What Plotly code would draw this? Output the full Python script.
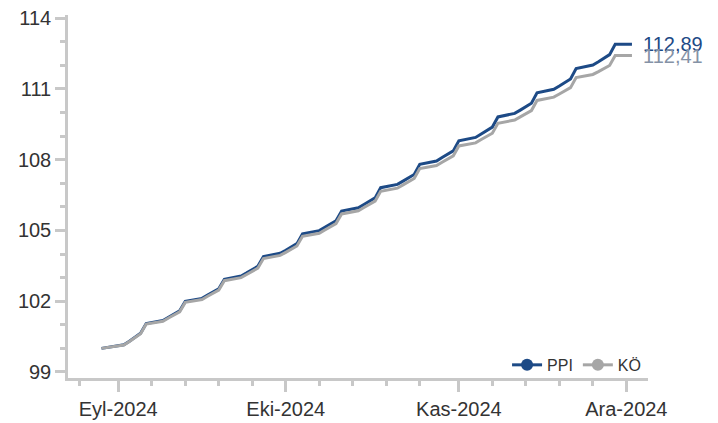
import pandas as pd
import plotly.graph_objects as go

# ---- data ----
dates = ["2024-08-29"] + [d.strftime("%Y-%m-%d") for d in pd.bdate_range("2024-09-02", "2024-12-02")]

ppi = [100.00,
       100.15, 100.30, 100.47, 100.64, 101.05,
       101.18, 101.32, 101.45, 101.59, 101.99,
       102.12, 102.26, 102.39, 102.53, 102.93,
       103.07, 103.20, 103.34, 103.48, 103.89,
       104.03, 104.16, 104.30, 104.44, 104.85,
       104.99, 105.13, 105.27, 105.41, 105.82,
       105.96, 106.10, 106.24, 106.38, 106.81,
       106.95, 107.09, 107.23, 107.37, 107.80,
       107.94, 108.09, 108.23, 108.37, 108.80,
       108.94, 109.09, 109.23, 109.38, 109.81,
       109.96, 110.10, 110.25, 110.39, 110.83,
       110.98, 111.12, 111.27, 111.42, 111.86,
       112.01, 112.15, 112.30, 112.45, 112.89,
       112.89]

ko = [100.00,
      100.14, 100.29, 100.46, 100.62, 101.03,
      101.15, 101.29, 101.42, 101.55, 101.95,
      102.07, 102.21, 102.34, 102.47, 102.87,
      103.00, 103.13, 103.27, 103.40, 103.81,
      103.94, 104.07, 104.21, 104.34, 104.75,
      104.88, 105.02, 105.16, 105.29, 105.70,
      105.83, 105.97, 106.10, 106.24, 106.66,
      106.79, 106.93, 107.06, 107.20, 107.62,
      107.75, 107.89, 108.03, 108.16, 108.58,
      108.71, 108.85, 108.98, 109.12, 109.54,
      109.68, 109.81, 109.95, 110.08, 110.51,
      110.65, 110.78, 110.92, 111.05, 111.48,
      111.61, 111.73, 111.86, 111.99, 112.41,
      112.41]

series_names = ["PPI", "KÖ"]
series_colors = ["#1d4a86", "#a6a6a6"]
label_colors = ["#1d4a86", "#8592a6"]

tick_dates = ["2024-09-01", "2024-10-01", "2024-11-01", "2024-12-01"]
tick_labels = ["Eyl-2024", "Eki-2024", "Kas-2024", "Ara-2024"]
y_ticks = [99, 102, 105, 108, 111, 114]

# minor x ticks: every 6 days from each month start
month_starts = pd.to_datetime(["2024-08-01"] + tick_dates)
minor_x = []
for ms in month_starts:
    for k in range(1, 5):
        minor_x.append((ms + pd.Timedelta(days=6 * k)).strftime("%Y-%m-%d"))

fig = go.Figure()
for vals, name, col in zip([ppi, ko], series_names, series_colors):
    fig.add_trace(go.Scatter(x=dates, y=vals, mode="lines", name=name,
                             line=dict(color=col, width=3), showlegend=False,
                             hoverinfo="skip"))
for name, col in zip(series_names, series_colors):
    fig.add_trace(go.Scatter(x=[None], y=[None], mode="lines+markers", name=name,
                             line=dict(color=col, width=3),
                             marker=dict(color=col, size=12, symbol="circle")))

for vals, lc in zip([ppi, ko], label_colors):
    fig.add_annotation(x=dates[-1], y=vals[-1], text=f"{vals[-1]:.2f}".replace(".", ","),
                       xanchor="left", yanchor="middle", xshift=9, showarrow=False,
                       font=dict(family="Liberation Sans, Arial, sans-serif", size=20, color=lc))

axis_col = "#c8c8c8"
fig.update_layout(
    width=718, height=423,
    margin=dict(l=68, r=70, t=15, b=45, autoexpand=False),
    paper_bgcolor="white", plot_bgcolor="white",
    font=dict(family="Liberation Sans, Arial, sans-serif", size=20, color="#333333"),
    showlegend=True,
    legend=dict(orientation="h", x=0.757, y=0.036, xanchor="left", yanchor="middle",
                font=dict(size=16, color="#333333"), bgcolor="rgba(0,0,0,0)",
                itemwidth=30, tracegroupgap=0),
    xaxis=dict(type="date", range=["2024-08-23", "2024-12-04 21:00"], automargin=False,
               tickmode="array", tickvals=tick_dates, ticktext=tick_labels,
               showgrid=False, zeroline=False,
               showline=True, linecolor=axis_col, linewidth=2.5,
               ticks="outside", ticklen=11, tickwidth=2.5, tickcolor=axis_col,
               minor=dict(tickmode="array", tickvals=minor_x, ticks="outside",
                          ticklen=5, tickwidth=2.5, tickcolor=axis_col, showgrid=False),
               tickfont=dict(size=20, color="#333333")),
    yaxis=dict(range=[98.745, 114.13], tickmode="array", tickvals=y_ticks, automargin=False,
               showgrid=False, zeroline=False,
               showline=True, linecolor=axis_col, linewidth=2.5,
               ticks="outside", ticklen=10, tickwidth=2.5, tickcolor=axis_col,
               minor=dict(dtick=1, tick0=99, ticks="outside", ticklen=5,
                          tickwidth=2.5, tickcolor=axis_col, showgrid=False),
               tickfont=dict(size=20, color="#333333")),
)

fig.write_html("out.html", config={"displayModeBar": False},
               post_script="document.body.style.margin='0';document.body.style.padding='0';document.body.style.overflow='hidden';")
